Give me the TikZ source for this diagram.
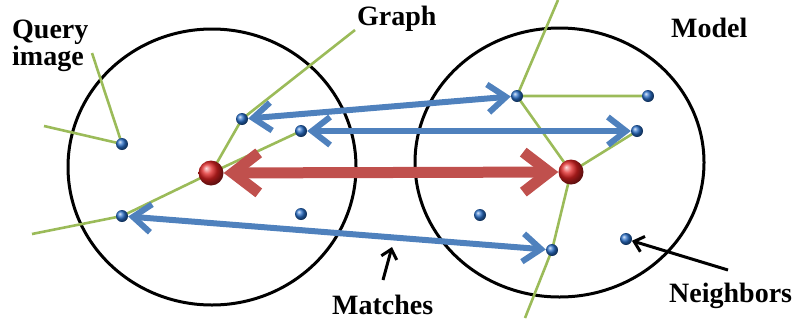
\documentclass[tikz,border=0pt]{standalone}
\usepackage{fontspec}
\setmainfont{Liberation Serif}
\usetikzlibrary{arrows.meta}
\definecolor{ggreen}{HTML}{9BBB59}
\definecolor{mblue}{HTML}{4F81BD}
\definecolor{mred}{HTML}{C0504D}
\definecolor{bballc}{RGB}{40,110,200}
\definecolor{rballc}{RGB}{225,35,35}
\pgfdeclarelayer{bg}
\pgfsetlayers{bg,main}
\tikzset{
  ring/.style={draw=black, line width=3pt},
  gline/.style={draw=ggreen, line width=2.6pt},
  sball/.style={circle, inner sep=0pt, minimum size=12pt, ball color=bballc},
  bigball/.style={circle, inner sep=0pt, minimum size=25pt, ball color=rballc},
  bluearrow/.style={draw=mblue, line width=6pt, {Straight Barb[length=18pt,width=28pt]}-{Straight Barb[length=18pt,width=28pt]}},
  redarrow/.style={draw=mred, line width=11pt, {Straight Barb[length=26pt,width=40pt]}-{Straight Barb[length=26pt,width=40pt]}},
  pointer/.style={draw=black, line width=3pt, -{Straight Barb[length=9pt,width=16pt]}},
  lbl/.style={font=\fontsize{28}{24}\selectfont\bfseries, inner sep=0pt}
}
\begin{document}
\begin{tikzpicture}[x=1pt,y=-1pt]
\useasboundingbox (0,0) rectangle (794,322);
% query image spheres
\node[sball] (q) at (122,144) {};
\node[sball] (a) at (242,119) {};
\node[sball] (b) at (301,131) {};
\node[bigball] (rl) at (211,173) {};
\node[sball] (c) at (122,216) {};
\node[sball] (d) at (301,214) {};
% model spheres
\node[sball] (e) at (517,96) {};
\node[sball] (f) at (648,96) {};
\node[sball] (g) at (637,131) {};
\node[bigball] (rr) at (571,172) {};
\node[sball] (h) at (480,215) {};
\node[sball] (i) at (552,250) {};
\node[sball] (j) at (626,239) {};
% free ends of graph edges
\coordinate (q1) at (92,53);
\coordinate (q2) at (44,126);
\coordinate (gt) at (355,30);
\coordinate (cl) at (32,234);
\coordinate (mt) at (558,0);
\coordinate (mb) at (525,318);
\coordinate (mtail) at (383,280);
\coordinate (mhead) at (392,247);
\coordinate (ntail) at (728,270);
\begin{pgfonlayer}{bg}
\draw[ring] (212,167) ellipse [x radius=144pt, y radius=138pt];
\draw[ring] (559.5,162.5) ellipse [x radius=144.5pt, y radius=134.5pt];
\draw[gline] (q1) -- (q.center) -- (q2);
\draw[gline] (gt) -- (a.center) -- (rl.center);
\draw[gline] (b.center) -- (rl.center);
\draw[gline] (rl.center) -- (c.center) -- (cl);
\draw[gline] (mt) -- (e.center) -- (f.center);
\draw[gline] (e.center) -- (rr.center);
\draw[gline] (g.center) -- (rr.center);
\draw[gline] (rr.center) -- (i.center) -- (mb);
\end{pgfonlayer}
% matches
\draw[bluearrow] (a) -- (e);
\draw[bluearrow] (b) -- (g);
\draw[bluearrow] (c) -- (i);
\draw[redarrow] (rl) -- (rr);
% pointers
\draw[pointer] (mtail) -- (mhead);
\draw[pointer] (ntail) -- (j);
% labels
\node[lbl, anchor=north west, align=left] (tq) at (12,20) {Query\\image};
\node[lbl, anchor=base west] (tg) at (357,25) {Graph};
\node[lbl, anchor=base west] (tm) at (671,37) {Model};
\node[lbl, anchor=base west] (tma) at (332,314) {Matches};
\node[lbl, anchor=base west] (tn) at (669,302) {Neighbors};
\end{tikzpicture}
\end{document}
